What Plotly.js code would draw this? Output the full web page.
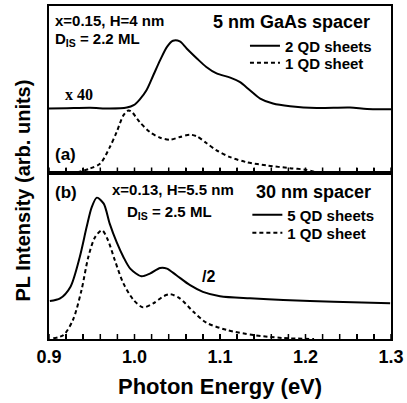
<!DOCTYPE html>
<html><head><meta charset="utf-8">
<script src="https://cdn.plot.ly/plotly-3.0.1.min.js"></script>
<style>html,body{margin:0;padding:0;background:#fff}</style>
</head><body><div id="chart" style="width:407px;height:403px"></div>
<script>
// Panel (a): 5 nm GaAs spacer
const aSolidX = [0.900, 0.921, 0.948, 0.971, 0.991, 0.999, 1.006, 1.014, 1.022, 1.030, 1.038, 1.045, 1.053, 1.061, 1.073, 1.084, 1.096, 1.112, 1.123, 1.135, 1.147, 1.162, 1.182, 1.213, 1.252, 1.272, 1.300];
const aSolidY = [38.4, 38.6, 38.9, 38.4, 39.0, 40.4, 43.8, 49.4, 58.4, 67.5, 75.5, 79.1, 78.7, 74.5, 68.5, 63.4, 59.5, 57.0, 54.4, 49.4, 44.4, 41.4, 39.8, 38.7, 39.0, 38.1, 38.0];
const aDashX = [0.933, 0.948, 0.960, 0.971, 0.979, 0.987, 0.993, 0.997, 1.006, 1.018, 1.030, 1.042, 1.053, 1.065, 1.073, 1.084, 1.096, 1.112, 1.131, 1.155, 1.182, 1.201, 1.213];
const aDashY = [0, 2.4, 5.4, 15.1, 24.1, 34.3, 37.3, 36.3, 30.3, 24.3, 20.9, 19.7, 21.3, 22.7, 21.7, 17.7, 13.3, 9.2, 6.2, 4.2, 2.6, 1.6, 0];
// Panel (b): 30 nm spacer
const bSolidX = [0.901, 0.913, 0.925, 0.936, 0.944, 0.950, 0.956, 0.964, 0.971, 0.979, 0.987, 0.995, 1.008, 1.018, 1.030, 1.038, 1.049, 1.065, 1.080, 1.100, 1.135, 1.174, 1.233, 1.299];
const bSolidY = [22.8, 24.4, 31.3, 49.3, 67.2, 79.2, 84.9, 81.3, 69.3, 58.3, 49.3, 42.3, 37.7, 39.3, 42.7, 42.3, 38.3, 32.3, 28.3, 25.7, 24.4, 23.4, 22.3, 21.4];
const bDashX = [0.905, 0.917, 0.928, 0.938, 0.946, 0.954, 0.962, 0.969, 0.977, 0.987, 0.999, 1.010, 1.022, 1.034, 1.042, 1.053, 1.069, 1.084, 1.108, 1.139, 1.174, 1.210];
const bDashY = [0.4, 2.4, 11.4, 29.3, 49.3, 61.3, 65.3, 59.3, 47.3, 33.4, 23.4, 19.0, 21.4, 25.7, 26.9, 24.4, 16.3, 9.8, 5.4, 2.4, 0.6, 0];

const seriesNames = ['2 QD sheets', '1 QD sheet', '5 QD sheets', '1 QD sheet'];
const labelledTicks = [0.9, 1.0, 1.1, 1.2, 1.3];
const tickLabels = ['0.9', '1.0', '1.1', '1.2', '1.3'];

// tick marks every 0.02 eV, labels only on the 0.1 eV marks
const tickPos = [];
const tickTxt = [];
for (let i = 0; i <= 20; i++) {
  const v = Math.round((0.9 + i * 0.02) * 100) / 100;
  tickPos.push(v);
  const k = labelledTicks.findIndex(t => Math.abs(t - v) < 1e-9);
  tickTxt.push(k >= 0 ? tickLabels[k] : '');
}

const FONT = 'Liberation Sans, Arial, sans-serif';
const dashStyle = '4px,3px';

const traces = [
  {x: aSolidX, y: aSolidY, xaxis: 'x2', yaxis: 'y2', name: seriesNames[0], legend: 'legend',
   mode: 'lines', line: {color: '#000', width: 2, shape: 'spline', smoothing: 0.8}},
  {x: aDashX, y: aDashY, xaxis: 'x2', yaxis: 'y2', name: seriesNames[1], legend: 'legend2',
   mode: 'lines', line: {color: '#000', width: 2, dash: dashStyle, shape: 'spline', smoothing: 0.8}},
  {x: bSolidX, y: bSolidY, xaxis: 'x', yaxis: 'y', name: seriesNames[2], legend: 'legend3',
   mode: 'lines', line: {color: '#000', width: 2, shape: 'spline', smoothing: 0.8}},
  {x: bDashX, y: bDashY, xaxis: 'x', yaxis: 'y', name: seriesNames[3], legend: 'legend4',
   mode: 'lines', line: {color: '#000', width: 2, dash: dashStyle, shape: 'spline', smoothing: 0.8}}
];

const xCommon = {
  range: [0.9, 1.3], showline: true, linecolor: '#000', linewidth: 2, mirror: true,
  ticks: 'inside', ticklen: 5, tickwidth: 1.5, tickcolor: '#000',
  tickmode: 'array', tickvals: tickPos, ticktext: tickTxt,
  showgrid: false, zeroline: false
};
const yCommon = {
  range: [0, 100], showline: true, linecolor: '#000', linewidth: 2, mirror: true,
  showticklabels: false, showgrid: false, zeroline: false, fixedrange: true
};

// inward tick marks along the bottom edge of each panel, at the axis tick positions
const TICK_FRAC = 5 / 333;
const tickShapes = [];
tickPos.forEach(v => {
  [0, 0.5].forEach(base => {
    tickShapes.push({type: 'line', xref: 'x', yref: 'paper', x0: v, x1: v, y0: base, y1: base + TICK_FRAC,
      line: {color: '#000', width: 1.5}, layer: 'above'});
  });
});

function ann(text, x, y, size, opts) {
  return Object.assign({text: text, x: x, y: y, xref: 'paper', yref: 'paper', showarrow: false,
    xanchor: 'left', yanchor: 'middle', font: {family: FONT, size: size, color: '#000', weight: 'bold'}}, opts || {});
}
function leg(x, y) {
  return {x: x, y: y, xanchor: 'left', yanchor: 'middle', bgcolor: 'rgba(0,0,0,0)',
    font: {family: FONT, size: 15, color: '#000', weight: 'bold'}, tracegroupgap: 0, itemclick: false};
}

const layout = {
  width: 407, height: 403,
  margin: {l: 49, r: 16, t: 6, b: 64},
  paper_bgcolor: '#fff', plot_bgcolor: '#fff',
  showlegend: true,
  xaxis: Object.assign({}, xCommon, {anchor: 'y', domain: [0, 1],
    tickfont: {family: FONT, size: 18, color: '#000', weight: 'bold'}}),
  xaxis2: Object.assign({}, xCommon, {anchor: 'y2', domain: [0, 1], showticklabels: false}),
  yaxis: Object.assign({}, yCommon, {domain: [0, 0.5], anchor: 'x'}),
  yaxis2: Object.assign({}, yCommon, {domain: [0.5, 1], anchor: 'x2'}),
  legend: leg(0.573, 0.880),
  legend2: leg(0.573, 0.829),
  legend3: leg(0.58, 0.372),
  legend4: leg(0.58, 0.318),
  shapes: tickShapes,
  annotations: [
    ann('x=0.15, H=4 nm', 0.012, 0.956, 15),
    ann('D<sub>IS</sub> = 2.2 ML', 0.012, 0.898, 15),
    ann('5 nm GaAs spacer', 0.944, 0.952, 18, {xanchor: 'right'}),
    ann('x 40', 0.041, 0.733, 16, {font: {family: 'Liberation Serif, Times New Roman, serif', size: 16, color: '#000', weight: 'bold'}}),
    ann('(a)', 0.012, 0.553, 17),
    ann('(b)', 0.012, 0.441, 17),
    ann('x=0.13, H=5.5 nm', 0.178, 0.450, 15),
    ann('D<sub>IS</sub> = 2.5 ML', 0.222, 0.379, 15),
    ann('30 nm spacer', 0.947, 0.441, 18, {xanchor: 'right'}),
    ann('/2', 0.442, 0.189, 16),
    ann('PL Intensity (arb. units)', -0.075, 0.447, 20, {xanchor: 'center', textangle: -90}),
    ann('Photon Energy (eV)', 0.5, -0.144, 22, {xanchor: 'center'})
  ]
};

Plotly.newPlot('chart', traces, layout, {staticPlot: true, displayModeBar: false});
</script>
</body></html>
